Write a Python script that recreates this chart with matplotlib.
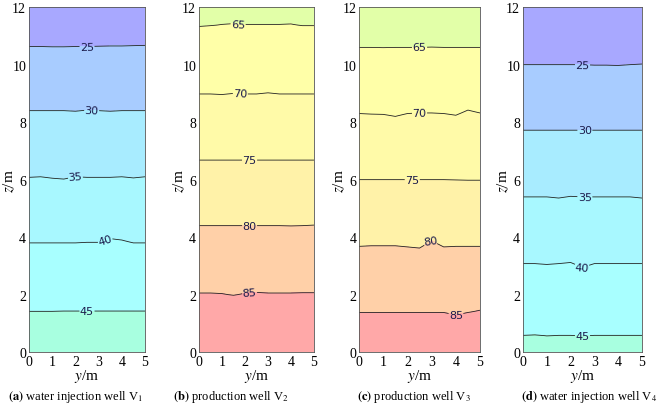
import numpy as np
import matplotlib
matplotlib.use("Agg")
import matplotlib.pyplot as plt

# ---- data ----
y_pts = [0, 0.5, 1.0, 1.5, 2.0, 2.5, 3.0, 3.5, 4.0, 4.5, 5.0]

levels_a = [25, 30, 35, 40, 45]
heights_a = [
    [10.63, 10.63, 10.62, 10.62, 10.63, 10.63, 10.64, 10.65, 10.65, 10.66, 10.67],
    [8.40, 8.40, 8.40, 8.40, 8.38, 8.42, 8.40, 8.38, 8.40, 8.40, 8.40],
    [6.08, 6.10, 6.05, 6.02, 6.10, 6.08, 6.08, 6.08, 6.10, 6.06, 6.10],
    [3.80, 3.80, 3.80, 3.80, 3.80, 3.82, 3.82, 3.95, 3.90, 3.80, 3.80],
    [1.42, 1.42, 1.42, 1.43, 1.43, 1.43, 1.43, 1.43, 1.43, 1.43, 1.43],
]
levels_b = [65, 70, 75, 80, 85]
heights_b = [
    [11.33, 11.36, 11.40, 11.43, 11.40, 11.40, 11.40, 11.40, 11.42, 11.36, 11.36],
    [8.98, 8.98, 8.96, 9.00, 8.98, 8.98, 9.02, 8.98, 8.98, 8.98, 8.98],
    [6.68, 6.68, 6.68, 6.68, 6.68, 6.68, 6.68, 6.68, 6.68, 6.68, 6.68],
    [4.40, 4.40, 4.40, 4.40, 4.40, 4.40, 4.40, 4.40, 4.39, 4.40, 4.42],
    [2.06, 2.06, 2.04, 1.98, 2.06, 2.08, 2.06, 2.06, 2.06, 2.07, 2.07],
]
levels_c = [65, 70, 75, 80, 85]
heights_c = [
    [10.60, 10.60, 10.59, 10.60, 10.60, 10.60, 10.61, 10.60, 10.60, 10.60, 10.60],
    [8.30, 8.28, 8.27, 8.20, 8.30, 8.32, 8.32, 8.30, 8.24, 8.42, 8.32],
    [6.00, 6.00, 6.00, 6.00, 6.00, 6.00, 6.00, 6.00, 5.99, 5.98, 5.98],
    [3.68, 3.70, 3.70, 3.70, 3.66, 3.62, 3.88, 3.66, 3.68, 3.68, 3.68],
    [1.38, 1.38, 1.38, 1.38, 1.38, 1.38, 1.38, 1.38, 1.30, 1.38, 1.46],
]
levels_d = [25, 30, 35, 40, 45]
heights_d = [
    [10.00, 10.00, 10.00, 10.00, 10.00, 10.00, 9.98, 9.98, 9.97, 10.00, 10.02],
    [7.72, 7.72, 7.72, 7.72, 7.72, 7.72, 7.72, 7.72, 7.72, 7.72, 7.72],
    [5.40, 5.40, 5.40, 5.36, 5.42, 5.40, 5.40, 5.40, 5.40, 5.40, 5.36],
    [3.08, 3.08, 3.05, 3.08, 3.12, 2.95, 3.08, 3.08, 3.08, 3.08, 3.08],
    [0.58, 0.60, 0.56, 0.58, 0.58, 0.56, 0.58, 0.58, 0.58, 0.58, 0.58],
]

label_pos_a = [(2.5, 10.6), (2.7, 8.4), (2.0, 6.1), (3.3, 3.85), (2.5, 1.43)]
label_pos_b = [(1.7, 11.4), (1.8, 8.98), (2.2, 6.68), (2.2, 4.4), (2.2, 2.06)]
label_pos_c = [(2.5, 10.6), (2.5, 8.32), (2.2, 6.0), (3.0, 3.8), (4.0, 1.33)]
label_pos_d = [(2.5, 10.0), (2.6, 7.72), (2.6, 5.4), (2.5, 3.0), (2.5, 0.58)]

colors_cold = ['#a8a8ff', '#a8ccff', '#a8ecff', '#a8f8ff', '#a8ffff', '#a8ffe0']
colors_hot = ['#e2ffa8', '#ffffa8', '#fffaa8', '#fff2a8', '#ffd0a8', '#ffa8a8']

captions = [
    r"$\mathbf{(a)}$ water injection well V$_1$",
    r"$\mathbf{(b)}$ production well V$_2$",
    r"$\mathbf{(c)}$ production well V$_3$",
    r"$\mathbf{(d)}$ water injection well V$_4$",
]

panels = [
    (levels_a, heights_a, label_pos_a, colors_cold),
    (levels_b, heights_b, label_pos_b, colors_hot),
    (levels_c, heights_c, label_pos_c, colors_hot),
    (levels_d, heights_d, label_pos_d, colors_cold),
]

# axes placement (figure fractions)
rects = [
    (0.0439, 0.147, 0.1758, 0.8333),
    (0.3015, 0.147, 0.1742, 0.8333),
    (0.5440, 0.147, 0.1833, 0.8333),
    (0.7924, 0.147, 0.1803, 0.8333),
]
cap_x = [0.114, 0.350, 0.627, 0.893]

plt.rcParams['font.family'] = ['Liberation Serif', 'DejaVu Serif']
plt.rcParams['mathtext.fontset'] = 'stix'

W = 6.6
fig = plt.figure(figsize=(W, 4.14), dpi=100)

ygrid = np.array(y_pts, dtype=float)
zgrid = np.linspace(0, 12, 481)

for i, ((levs, hts, lpos, cols), rect) in enumerate(zip(panels, rects)):
    ax = fig.add_axes(rect)
    hts = np.array(hts)
    T = np.zeros((len(zgrid), len(ygrid)))
    step = levs[1] - levs[0]
    for j in range(len(ygrid)):
        zs = np.concatenate(([0.0 - 0.001], hts[::-1, j], [12.001]))
        vals = np.concatenate(([levs[-1] + step / 2.0], np.array(levs[::-1], float),
                               [levs[0] - step / 2.0]))
        T[:, j] = np.interp(zgrid, zs, vals)
    bounds = [levs[0] - 100] + list(levs) + [levs[-1] + 100]
    ax.contourf(ygrid, zgrid, T, levels=bounds, colors=cols)
    cs = ax.contour(ygrid, zgrid, T, levels=levs, colors='#222222', linewidths=0.6)
    lbl = ax.clabel(cs, levels=levs, fmt='%d', manual=lpos, inline=True,
                    fontsize=8, inline_spacing=2)
    for t in lbl:
        t.set_fontfamily('DejaVu Sans')
        t.set_color('#1a1a4a')
    ax.set_xlim(0, 5)
    ax.set_ylim(0, 12)
    ax.set_xticks([0, 1, 2, 3, 4, 5])
    ax.set_yticks([0, 2, 4, 6, 8, 10, 12])
    ax.tick_params(length=0, labelsize=10, pad=2)
    for s in ax.spines.values():
        s.set_linewidth(0.6)
        s.set_color('#555555')
    ax.set_xlabel(r'$y$/m', fontsize=11, labelpad=-1)
    ax.set_ylabel(r'$z$/m', fontsize=11)
    width_px = rect[2] * W * 100
    ax.yaxis.set_label_coords(-12.0 / width_px, 0.5)
    fig.text(cap_x[i], 0.041, captions[i], fontsize=9, ha='center', va='center')

fig.savefig('out.png', dpi=100)
